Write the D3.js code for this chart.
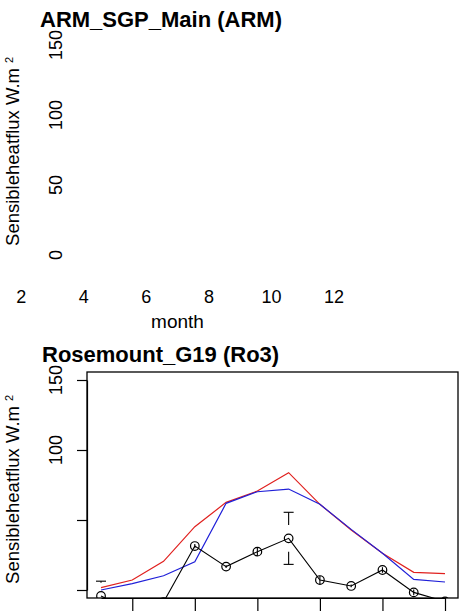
<!DOCTYPE html>
<html>
<head>
<meta charset="utf-8">
<script src="https://cdn.jsdelivr.net/npm/d3@7"></script>
<style>
  html, body { margin: 0; padding: 0; background: #fff; }
  svg { display: block; font-family: "Liberation Sans", Arial, Helvetica, sans-serif; }
</style>
</head>
<body>
<svg id="chart" width="469" height="613"></svg>
<script>
// ---------- data ----------
const months = [1, 2, 3, 4, 5, 6, 7, 8, 9, 10, 11, 12];
const xTickValues = [2, 4, 6, 8, 10, 12];
const yTickValues = [0, 50, 100, 150];
const bottomYLabelled = [100, 150];
const titleTop = "ARM_SGP_Main (ARM)";
const titleBottom = "Rosemount_G19 (Ro3)";
const xLabel = "month";
const yLabel = "Sensibleheatflux W.m";
const yLabelSup = "2";
// Rosemount series (W m-2)
const redSeries  = [1.7, 7.1, 20.5, 45.2, 62.6, 70.7, 83.8, 61.2, 42.9, 26.2, 12.6, 11.7];
const blueSeries = [0.0, 4.5, 10.2, 20.2, 61.9, 70.2, 72.1, 61.2, 43.3, 26.2, 7.6, 5.7];
const obsMean    = [-4.3, -15, -8.6, 31.4, 16.7, 27.4, 36.9, 7.1, 2.9, 14.3, -1.7, -8.2];
const obsSd      = [10.6, 1.0, 1.0, 1.5, 1.0, 3.0, 18.6, 3.0, 1.0, 2.0, 2.0, 1.0];
const ciGap = 9.5; // gap around points, in data units

// ---------- setup ----------
const svg = d3.select("#chart");
const FONT_TICK = 18, FONT_LAB = 18.5, FONT_TITLE = 22;

// ---------- top panel (empty plot, labels only) ----------
const xTop = d3.scaleLinear().domain([1, 12]).range([-10, 334]);
const yTop = d3.scaleLinear().domain([0, 150]).range([255, 45]);

svg.append("text").attr("x", 40).attr("y", 27)
  .attr("font-size", FONT_TITLE).attr("font-weight", "bold").text(titleTop);

svg.append("g").selectAll("text").data(yTickValues).join("text")
  .attr("transform", d => `translate(61.5,${yTop(d)}) rotate(-90)`)
  .attr("text-anchor", "middle").attr("font-size", FONT_TICK).text(d => d);

svg.append("g").selectAll("text").data(xTickValues).join("text")
  .attr("x", d => xTop(d)).attr("y", 302.5)
  .attr("text-anchor", "middle").attr("font-size", FONT_TICK).text(d => d);

svg.append("text").attr("x", 177.5).attr("y", 328)
  .attr("text-anchor", "middle").attr("font-size", FONT_LAB + 0.5).text(xLabel);

function yTitle(cy) {
  const t = svg.append("text").attr("transform", `translate(18.5,${cy}) rotate(-90)`)
    .attr("text-anchor", "middle").attr("font-size", FONT_LAB).text(yLabel);
  const len = t.node().getComputedTextLength();
  svg.append("text").attr("transform", `translate(13,${cy - len / 2 - 8}) rotate(-90)`)
    .attr("text-anchor", "middle").attr("font-size", 11).text(yLabelSup);
}
yTitle(157);

// ---------- bottom panel ----------
const x = d3.scaleLinear().domain([1, 12]).range([101, 445]);
const y = d3.scaleLinear().domain([0, 150]).range([590, 380]);
const box = { x0: 87, x1: 458, y0: 372, y1: 598 };

svg.append("text").attr("x", 42).attr("y", 362)
  .attr("font-size", FONT_TITLE).attr("font-weight", "bold").text(titleBottom);

svg.append("defs").append("clipPath").attr("id", "clip")
  .append("rect").attr("x", box.x0).attr("y", box.y0)
  .attr("width", box.x1 - box.x0).attr("height", box.y1 - box.y0);

const plot = svg.append("g").attr("clip-path", "url(#clip)");
const line = d3.line().x((d, i) => x(months[i])).y(d => y(d));

plot.append("path").datum(redSeries).attr("d", line)
  .attr("fill", "none").attr("stroke", "#e0201e").attr("stroke-width", 1.2);
plot.append("path").datum(blueSeries).attr("d", line)
  .attr("fill", "none").attr("stroke", "#1f1fd8").attr("stroke-width", 1.2);
plot.append("path").datum(obsMean).attr("d", line)
  .attr("fill", "none").attr("stroke", "#000").attr("stroke-width", 1.1);

// error bars (plotCI style with gap around points)
const eb = plot.append("g").attr("stroke", "#000").attr("stroke-width", 1.1);
const cap = 5;
months.forEach((m, i) => {
  const mu = obsMean[i], sd = obsSd[i], px = x(m);
  if (sd > ciGap) {
    [[mu + ciGap, mu + sd], [mu - ciGap, mu - sd]].forEach(([a, b]) => {
      eb.append("line").attr("x1", px).attr("x2", px).attr("y1", y(a)).attr("y2", y(b));
      eb.append("line").attr("x1", px - cap).attr("x2", px + cap).attr("y1", y(b)).attr("y2", y(b));
    });
  } else {
    eb.append("line").attr("x1", px).attr("x2", px).attr("y1", y(mu - sd)).attr("y2", y(mu + sd));
  }
});

plot.append("g").selectAll("circle").data(obsMean).join("circle")
  .attr("cx", (d, i) => x(months[i])).attr("cy", d => y(d)).attr("r", 4.3)
  .attr("fill", "none").attr("stroke", "#000").attr("stroke-width", 1.2);

// box
svg.append("rect").attr("x", box.x0).attr("y", box.y0)
  .attr("width", box.x1 - box.x0).attr("height", box.y1 - box.y0)
  .attr("fill", "none").attr("stroke", "#000").attr("stroke-width", 1.3);

// axes
const yAxis = svg.append("g").attr("transform", `translate(${box.x0},0)`)
  .call(d3.axisLeft(y).tickValues(yTickValues).tickSize(10).tickSizeOuter(0).tickFormat(""));
yAxis.selectAll("path,line").attr("stroke", "#000").attr("stroke-width", 1.2);

const xAxis = svg.append("g").attr("transform", `translate(0,${box.y1})`)
  .call(d3.axisBottom(x).tickValues(xTickValues).tickSize(13).tickSizeOuter(0).tickFormat(""));
xAxis.selectAll("path,line").attr("stroke", "#000").attr("stroke-width", 1.2);

svg.append("g").selectAll("text").data(bottomYLabelled).join("text")
  .attr("transform", d => `translate(61.5,${y(d)}) rotate(-90)`)
  .attr("text-anchor", "middle").attr("font-size", FONT_TICK).text(d => d);

yTitle(495);
</script>
</body>
</html>
